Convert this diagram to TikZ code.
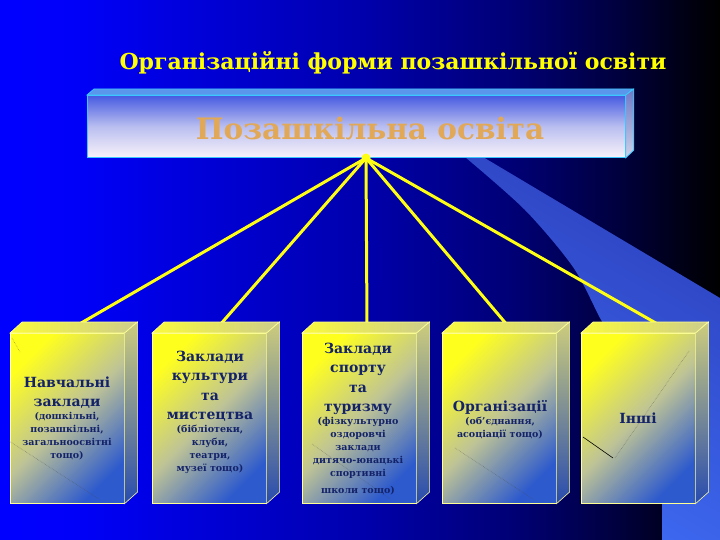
\documentclass[tikz,border=0pt]{standalone}
\usepackage{fontspec}
\setmainfont{DejaVu Serif}
\usetikzlibrary{calc}
\definecolor{bandA}{RGB}{45,65,190}
\definecolor{bandB}{RGB}{62,108,245}
\definecolor{connyellow}{RGB}{255,255,20}
\definecolor{fyel}{RGB}{255,255,30}
\definecolor{fmid}{RGB}{190,195,150}
\definecolor{fblue}{RGB}{45,90,205}
\definecolor{syel}{RGB}{205,205,125}
\definecolor{sblue}{RGB}{40,75,175}
\definecolor{tyel}{RGB}{250,250,60}
\definecolor{tgray}{RGB}{205,205,140}
\definecolor{boxedge}{RGB}{255,255,150}
\definecolor{txtnavy}{RGB}{20,35,105}
\definecolor{topblue}{RGB}{70,90,225}
\definecolor{topmid}{RGB}{185,190,240}
\definecolor{topwhite}{RGB}{248,242,250}
\definecolor{topedge}{RGB}{60,200,255}
\definecolor{toptop}{RGB}{90,150,235}
\definecolor{sideA}{RGB}{110,120,200}
\definecolor{sideB}{RGB}{205,210,232}
\definecolor{tan}{RGB}{225,168,88}
\definecolor{titleyel}{RGB}{255,255,0}
\pgfdeclarehorizontalshading{bgshade}{100bp}{rgb(0bp)=(0,0,1); rgb(25bp)=(0,0,1); rgb(30bp)=(0,0,0.98); rgb(50bp)=(0,0,0.68); rgb(61bp)=(0,0,0.45); rgb(68bp)=(0,0,0.24); rgb(74bp)=(0,0,0.03); rgb(75bp)=(0,0,0); rgb(100bp)=(0,0,0)}
\newcommand{\mainf}{\fontsize{14}{19.5}\selectfont\bfseries}
\newcommand{\subf}{\fontsize{9.5}{13}\selectfont\bfseries}
\tikzset{
  frontface/.style={draw=boxedge, line width=0.6pt, inner sep=0pt, anchor=north west,
    minimum width=114pt, minimum height=170pt,
    top color=fyel, bottom color=fblue, middle color=fmid, shading angle=45},
  sideface/.style={draw=boxedge, line width=0.6pt, top color=syel, bottom color=sblue},
  topface/.style={draw=boxedge, line width=0.6pt, left color=tyel, right color=tgray},
  conn/.style={draw=connyellow, line width=3pt, line cap=round},
  boxtext/.style={anchor=base, inner sep=0pt, text=txtnavy},
  speck/.style={densely dotted, draw=black!70, line width=0.6pt, opacity=0.5},
}
\newcommand{\solidbox}[2]{%
  \node[frontface] (#1) at (#2,333) {};
  \path[topface] (#1.north west) -- ++(12,-11) -- ++(115,0) -- (#1.north east) -- cycle;
  \path[sideface] (#1.north east) -- ++(13,-11) -- ++(0,170) -- (#1.south east) -- cycle;
}
\begin{document}
\begin{tikzpicture}[x=1pt,y=-1pt]
\useasboundingbox (0,0) rectangle (720,540);
\shade[shading=bgshade] (0,0) rectangle (720,540);
% light band
\shade[left color=bandA, right color=bandB, shading angle=-30]
  (483,157) -- (720,298) -- (720,540) -- (662,540) --
  plot[smooth] coordinates {(662,500) (648,420) (618,350) (600,318) (573,267) (525,210) (465,157)} -- cycle;
% title
\node[text=titleyel, font=\fontsize{22}{25}\selectfont\bfseries] (title) at (393,63) {Організаційні форми позашкільної освіти};
% top box
\node[draw=topedge, line width=0.8pt, inner sep=0pt, anchor=north west, minimum width=538pt, minimum height=62pt,
  top color=topblue, bottom color=topwhite, middle color=topmid] (topbox) at (87,95) {};
\path[draw=topedge, line width=0.8pt, fill=toptop] (topbox.north west) -- ++(7,-6) -- ++(539,0) -- (topbox.north east) -- cycle;
\path[draw=topedge, line width=0.8pt, top color=sideA, bottom color=sideB] (topbox.north east) -- ++(8,-6) -- ++(0,61) -- (topbox.south east) -- cycle;
\node[text=tan, font=\fontsize{29.5}{34}\selectfont\bfseries] (toptext) at (370,129) {Позашкільна освіта};
% connectors
\coordinate (hub) at (366,158);
\coordinate (e1) at (76,326);
\coordinate (e2) at (219,326);
\coordinate (e3) at (367,326);
\coordinate (e4) at (508,326);
\coordinate (e5) at (661,326);
\foreach \e in {e1,e2,e3,e4,e5} \draw[conn] (hub) -- (\e);
\fill[connyellow] (hub) circle (4.5pt);
% boxes
\solidbox{b1}{10}
\solidbox{b2}{152}
\solidbox{b3}{302}
\solidbox{b4}{442}
\solidbox{b5}{581}
% specks
\draw[speck] (9,441) -- (99,499);
\draw[speck] (12,338) -- (20,352);
\draw[speck] (312,444) -- (390,499);
\draw[speck] (455,448) -- (533,499);
\draw[speck] (615,458) -- (689,351);
\draw[black, line width=0.6pt] (583,437) -- (613,458);
% texts
\node[boxtext] (t1) at (67,387) {\parbox[t]{112pt}{\centering\mainf Навчальні\\ заклади\par\subf (дошкільні,\\ позашкільні,\\ загальноосвітні\\ тощо)\par}};
\node[boxtext] (t2) at (210,361) {\parbox[t]{112pt}{\centering\mainf Заклади\\ культури\\ та\\ мистецтва\par\subf (бібліотеки,\\ клуби,\\ театри,\\ музеї тощо)\par}};
\node[boxtext] (t3) at (358,353) {\parbox[t]{112pt}{\centering\mainf Заклади\\ спорту\\ та\\ туризму\par\subf (фізкультурно\\ оздоровчі\\ заклади\\ дитячо-юнацькі\\ спортивні\\[4pt] школи тощо)\par}};
\node[boxtext] (t4) at (500,411) {\parbox[t]{112pt}{\centering\mainf Організації\par\subf (об'єднання,\\ асоціації тощо)\par}};
\node[boxtext] (t5) at (638,423) {\mainf Інші};
\end{tikzpicture}
\end{document}
